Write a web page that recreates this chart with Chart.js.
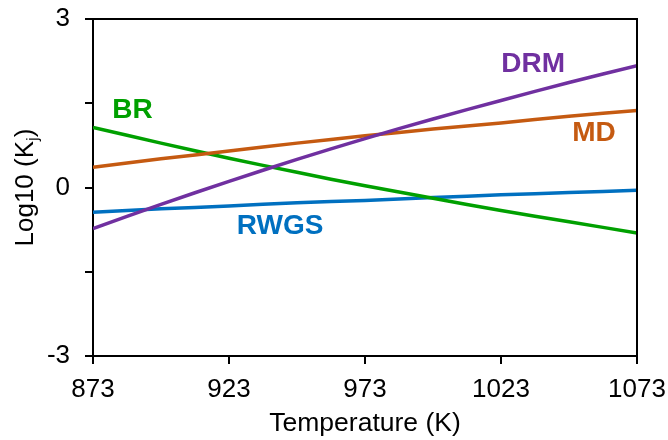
<!DOCTYPE html>
<html>
<head>
<meta charset="utf-8">
<script src="https://cdn.jsdelivr.net/npm/chart.js@4/dist/chart.umd.min.js"></script>
<style>
  html, body { margin: 0; padding: 0; background: #fff; }
  #wrap { width: 668px; height: 440px; }
</style>
</head>
<body>
<div id="wrap"><canvas id="kChart" width="668" height="440"></canvas></div>
<script>
// temperatures (K)
var temps = [873, 898, 923, 948, 973, 998, 1023, 1048, 1073];
// log10 of equilibrium constants
var drm  = [-0.73, -0.30, 0.11, 0.50, 0.87, 1.22, 1.55, 1.87, 2.17];
var md   = [0.36, 0.51, 0.65, 0.79, 0.92, 1.04, 1.15, 1.27, 1.37];
var br   = [1.07, 0.79, 0.52, 0.27, 0.03, -0.19, -0.41, -0.61, -0.81];
var rwgs = [-0.44, -0.38, -0.33, -0.27, -0.23, -0.18, -0.13, -0.09, -0.05];

var xTicks = [873, 923, 973, 1023, 1073];
var xTickLabels = ['873', '923', '973', '1023', '1073'];
var yTickLabels = ['-3', '0', '3'];

// in-plot series labels (data coordinates)
var labelNames = ['DRM', 'MD', 'BR', 'RWGS'];
var labelT = [1034.8, 1057.2, 887.5, 941.8];
var labelY = [2.20, 0.96, 1.37, -0.685];
var colors = ['#7030A0', '#C55A11', '#00A000', '#0070C0'];

function pts(ys) {
  return temps.map(function (t, i) { return { x: t, y: ys[i] }; });
}

var FONT = '"Liberation Sans", Arial, sans-serif';

var extras = {
  id: 'extras',
  afterDraw: function (chart) {
    var ctx = chart.ctx, a = chart.chartArea;
    var xs = chart.scales.x, ys = chart.scales.y;
    ctx.save();
    // top and right frame
    ctx.strokeStyle = '#000';
    ctx.lineWidth = 2;
    ctx.beginPath();
    ctx.moveTo(a.left, a.top);
    ctx.lineTo(a.right, a.top);
    ctx.lineTo(a.right, a.bottom);
    ctx.stroke();

    // series labels
    ctx.font = 'bold 28px ' + FONT;
    ctx.textAlign = 'center';
    ctx.textBaseline = 'middle';
    labelNames.forEach(function (n, i) {
      ctx.fillStyle = colors[i];
      ctx.fillText(n, xs.getPixelForValue(labelT[i]), ys.getPixelForValue(labelY[i]));
    });

    // y title with subscript j
    ctx.fillStyle = '#000';
    ctx.translate(33, (a.top + a.bottom) / 2);
    ctx.rotate(-Math.PI / 2);
    ctx.textBaseline = 'alphabetic';
    ctx.textAlign = 'left';
    var main = 'Log10 (K', sub = 'j', end = ')';
    ctx.font = '26px ' + FONT;
    var w1 = ctx.measureText(main).width, w3 = ctx.measureText(end).width;
    ctx.font = '17px ' + FONT;
    var w2 = ctx.measureText(sub).width;
    var x0 = -(w1 + w2 + w3) / 2;
    ctx.font = '26px ' + FONT;
    ctx.fillText(main, x0, 0);
    ctx.font = '17px ' + FONT;
    ctx.fillText(sub, x0 + w1, 5);
    ctx.font = '26px ' + FONT;
    ctx.fillText(end, x0 + w1 + w2, 0);
    ctx.restore();
  }
};

var ctx = document.getElementById('kChart').getContext('2d');
var chart = new Chart(ctx, {
  type: 'line',
  data: {
    datasets: [
      { label: 'DRM', data: pts(drm), borderColor: colors[0] },
      { label: 'MD', data: pts(md), borderColor: colors[1] },
      { label: 'BR', data: pts(br), borderColor: colors[2] },
      { label: 'RWGS', data: pts(rwgs), borderColor: colors[3] }
    ]
  },
  options: {
    responsive: false,
    animation: false,
    layout: { padding: { left: 0, right: 31, top: 19, bottom: 0 } },
    elements: {
      line: { borderWidth: 3.5, tension: 0.3, fill: false },
      point: { radius: 0 }
    },
    plugins: {
      legend: { display: false },
      tooltip: { enabled: false }
    },
    scales: {
      x: {
        type: 'linear',
        min: 873,
        max: 1073,
        afterBuildTicks: function (s) {
          s.ticks = xTicks.map(function (v) { return { value: v }; });
        },
        afterFit: function (s) {
          s.height = 84;
          s.paddingLeft = 0;
          s.paddingRight = 0;
        },
        ticks: {
          color: '#000',
          font: { family: FONT, size: 26 },
          padding: 10,
          maxRotation: 0,
          autoSkip: false,
          callback: function (v) {
            var i = xTicks.indexOf(v);
            return i >= 0 ? xTickLabels[i] : '';
          }
        },
        grid: { drawOnChartArea: false, drawTicks: true, tickLength: 8, color: '#000', lineWidth: 2 },
        border: { color: '#000', width: 2 },
        title: {
          display: true,
          text: 'Temperature (K)',
          color: '#000',
          font: { family: FONT, size: 26.5 },
          padding: { top: 2, bottom: 0 }
        }
      },
      y: {
        min: -3,
        max: 3,
        afterBuildTicks: function (s) {
          s.ticks = [-3, -1.5, 0, 1.5, 3].map(function (v) { return { value: v }; });
        },
        afterFit: function (s) {
          s.width = 93;
          s.paddingTop = 0;
          s.paddingBottom = 0;
        },
        ticks: {
          color: '#000',
          font: { family: FONT, size: 26 },
          padding: 15,
          callback: function (v) {
            var i = [-3, 0, 3].indexOf(v);
            return i >= 0 ? yTickLabels[i] : '';
          }
        },
        grid: { drawOnChartArea: false, drawTicks: true, tickLength: 8, color: '#000', lineWidth: 2 },
        border: { color: '#000', width: 2 }
      }
    }
  },
  plugins: [extras]
});
</script>
</body>
</html>
